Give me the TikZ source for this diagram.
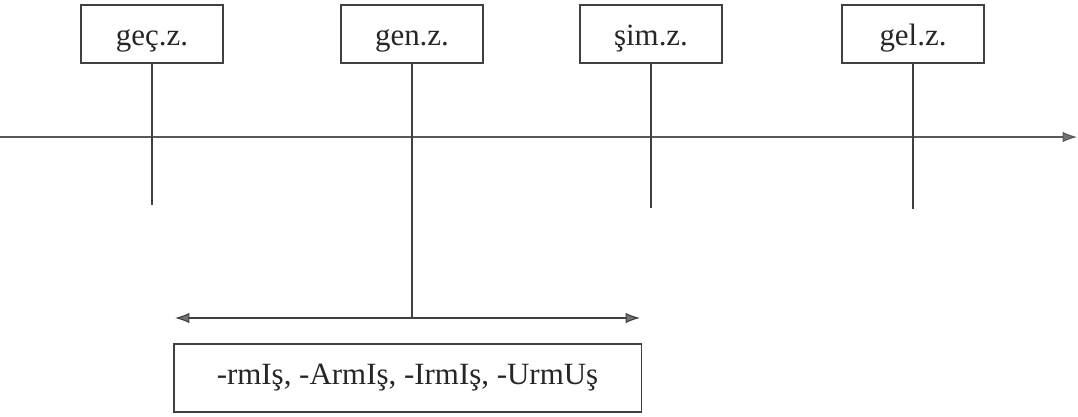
\documentclass[tikz,border=0pt]{standalone}
\usepackage{fontspec}
\setmainfont{Liberation Serif}
\usepackage{tikz}
\usetikzlibrary{arrows.meta, positioning}

\tikzset{
    zbox/.style={draw=black!75, line width=0.8pt, fill=white,
        minimum width=3.55cm, minimum height=1.45cm, inner sep=0pt,
        text height=0.75cm, text depth=0.2cm,
        font=\fontsize{22}{26}\selectfont, text=black!85},
    ekbox/.style={zbox, minimum width=11.675cm, minimum height=1.7cm,
        text height=, text depth=},
    hat/.style={draw=black!75, line width=0.8pt},
    tip/.style={-{Latex[length=0.36cm, width=0.26cm, fill=black!55]}}
}

\begin{document}
\begin{tikzpicture}[x=0.025cm, y=-0.025cm]
    \useasboundingbox (0,0) rectangle (1078,416);

    % 1. Zaman ekseni
    \coordinate (axL) at (0,137);
    \coordinate (axR) at (1077,137);
    \draw[hat, tip, draw=black!65] (axL) -- (axR);

    % 2. Zaman kutuları ve dikey çizgiler
    \foreach \nm/\xx/\txt/\yend in {gec/152/geç.z./205, gen/412/gen.z./318,
        sim/651/şim.z./208, gel/913/gel.z./209} {
        \node[zbox] (\nm) at (\xx,34) {\txt};
        \coordinate (\nm-end) at (\xx,\yend);
        \draw[hat] (\nm.south) -- (\nm-end);
    }

    % 3. Çift yönlü ok
    \coordinate (okL) at (175,318);
    \coordinate (okR) at (640,318);
    \draw[hat, {Latex[length=0.36cm, width=0.26cm, fill=black!55]}-{Latex[length=0.36cm, width=0.26cm, fill=black!55]}] (okL) -- (okR);

    % 4. Ekler
    \node[ekbox] (ekler) at (407.5,378) {-rmIş, -ArmIş, -IrmIş, -UrmUş};
\end{tikzpicture}
\end{document}
